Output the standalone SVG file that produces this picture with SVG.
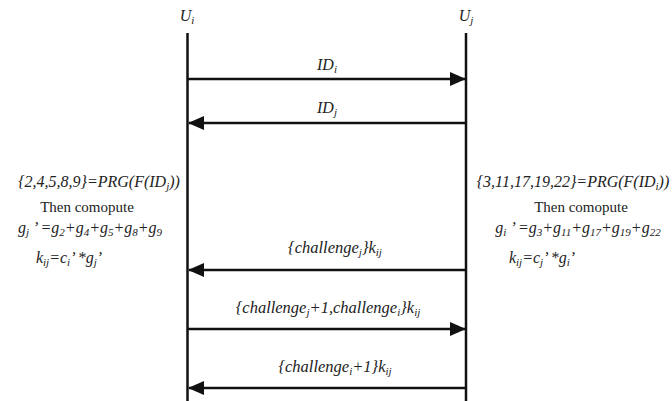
<svg xmlns="http://www.w3.org/2000/svg" width="672" height="401" viewBox="0 0 672 401">
<defs>
<style>
svg text, svg tspan{font-family:'Liberation Serif',serif !important}
.t{font-size:16px;fill:#222;font-style:italic;text-anchor:middle}
.m{font-size:16.5px}
.u{font-style:normal;font-size:15px}
.s{font-size:11px}
.life{stroke:#111;stroke-width:2.5;fill:none}
.msg{stroke:#111;stroke-width:2.5;fill:none}
</style>
<marker id="ah" viewBox="0 0 16 14" refX="15" refY="7" markerWidth="16" markerHeight="14" markerUnits="userSpaceOnUse" orient="auto">
<path d="M0,0 L16,7 L0,14 Z" fill="#111"/>
</marker>
</defs>
<rect width="672" height="401" fill="#fff"/>
<g id="Ui">
<line class="life" x1="187.5" y1="33" x2="187.5" y2="401"/>
<text class="t" font-family="Liberation Serif" x="187" y="21">U<tspan class="s" dy="3">i</tspan></text>
</g>
<g id="Uj">
<line class="life" x1="466" y1="33" x2="466" y2="401"/>
<text class="t" font-family="Liberation Serif" x="466" y="21">U<tspan class="s" dy="3">j</tspan></text>
</g>
<g id="left-computation">
<text class="t" font-family="Liberation Serif" x="99" y="187">{2,4,5,8,9}=PRG(F(ID<tspan class="s" dy="3">j</tspan><tspan dy="-3">))</tspan></text>
<text class="t u" font-family="Liberation Serif" x="87" y="212">Then comopute</text>
<text class="t" font-family="Liberation Serif" x="90" y="233">g<tspan class="s" dy="3">j</tspan><tspan dy="-3">  ’  =g</tspan><tspan class="s" dy="3">2</tspan><tspan dy="-3">+g</tspan><tspan class="s" dy="3">4</tspan><tspan dy="-3">+g</tspan><tspan class="s" dy="3">5</tspan><tspan dy="-3">+g</tspan><tspan class="s" dy="3">8</tspan><tspan dy="-3">+g</tspan><tspan class="s" dy="3">9</tspan></text>
<text class="t" font-family="Liberation Serif" x="69" y="263">k<tspan class="s" dy="3">ij</tspan><tspan dy="-3">=c</tspan><tspan class="s" dy="3">i</tspan><tspan dy="-3">’ *g</tspan><tspan class="s" dy="3">j</tspan><tspan dy="-3">’</tspan></text>
</g>
<g id="right-computation">
<text class="t" font-family="Liberation Serif" x="573" y="187">{3,11,17,19,22}=PRG(F(ID<tspan class="s" dy="3">i</tspan><tspan dy="-3">))</tspan></text>
<text class="t u" font-family="Liberation Serif" x="581" y="212">Then comopute</text>
<text class="t" font-family="Liberation Serif" x="578" y="233">g<tspan class="s" dy="3">i</tspan><tspan dy="-3">  ’  =g</tspan><tspan class="s" dy="3">3</tspan><tspan dy="-3">+g</tspan><tspan class="s" dy="3">11</tspan><tspan dy="-3">+g</tspan><tspan class="s" dy="3">17</tspan><tspan dy="-3">+g</tspan><tspan class="s" dy="3">19</tspan><tspan dy="-3">+g</tspan><tspan class="s" dy="3">22</tspan></text>
<text class="t" font-family="Liberation Serif" x="542" y="263">k<tspan class="s" dy="3">ij</tspan><tspan dy="-3">=c</tspan><tspan class="s" dy="3">j</tspan><tspan dy="-3">’ *g</tspan><tspan class="s" dy="3">i</tspan><tspan dy="-3">’</tspan></text>
</g>
<g id="connectors">
<line class="msg" x1="188" y1="79" x2="465" y2="79" marker-end="url(#ah)"/>
<line class="msg" x1="465" y1="123" x2="189" y2="123" marker-end="url(#ah)"/>
<line class="msg" x1="465" y1="270" x2="189" y2="270" marker-end="url(#ah)"/>
<line class="msg" x1="188" y1="329" x2="465" y2="329" marker-end="url(#ah)"/>
<line class="msg" x1="465" y1="388" x2="189" y2="388" marker-end="url(#ah)"/>
<text class="t" font-family="Liberation Serif" x="327" y="70">ID<tspan class="s" dy="3">i</tspan></text>
<text class="t" font-family="Liberation Serif" x="327" y="113">ID<tspan class="s" dy="3">j</tspan></text>
<text class="t m" font-family="Liberation Serif" x="335" y="253">{challenge<tspan class="s" dy="3">j</tspan><tspan dy="-3">}k</tspan><tspan class="s" dy="3">ij</tspan></text>
<text class="t m" font-family="Liberation Serif" x="328" y="313">{challenge<tspan class="s" dy="3">j</tspan><tspan dy="-3">+1,challenge</tspan><tspan class="s" dy="3">i</tspan><tspan dy="-3">}k</tspan><tspan class="s" dy="3">ij</tspan></text>
<text class="t m" font-family="Liberation Serif" x="335" y="372">{challenge<tspan class="s" dy="3">i</tspan><tspan dy="-3">+1}k</tspan><tspan class="s" dy="3">ij</tspan></text>
</g>
</svg>
